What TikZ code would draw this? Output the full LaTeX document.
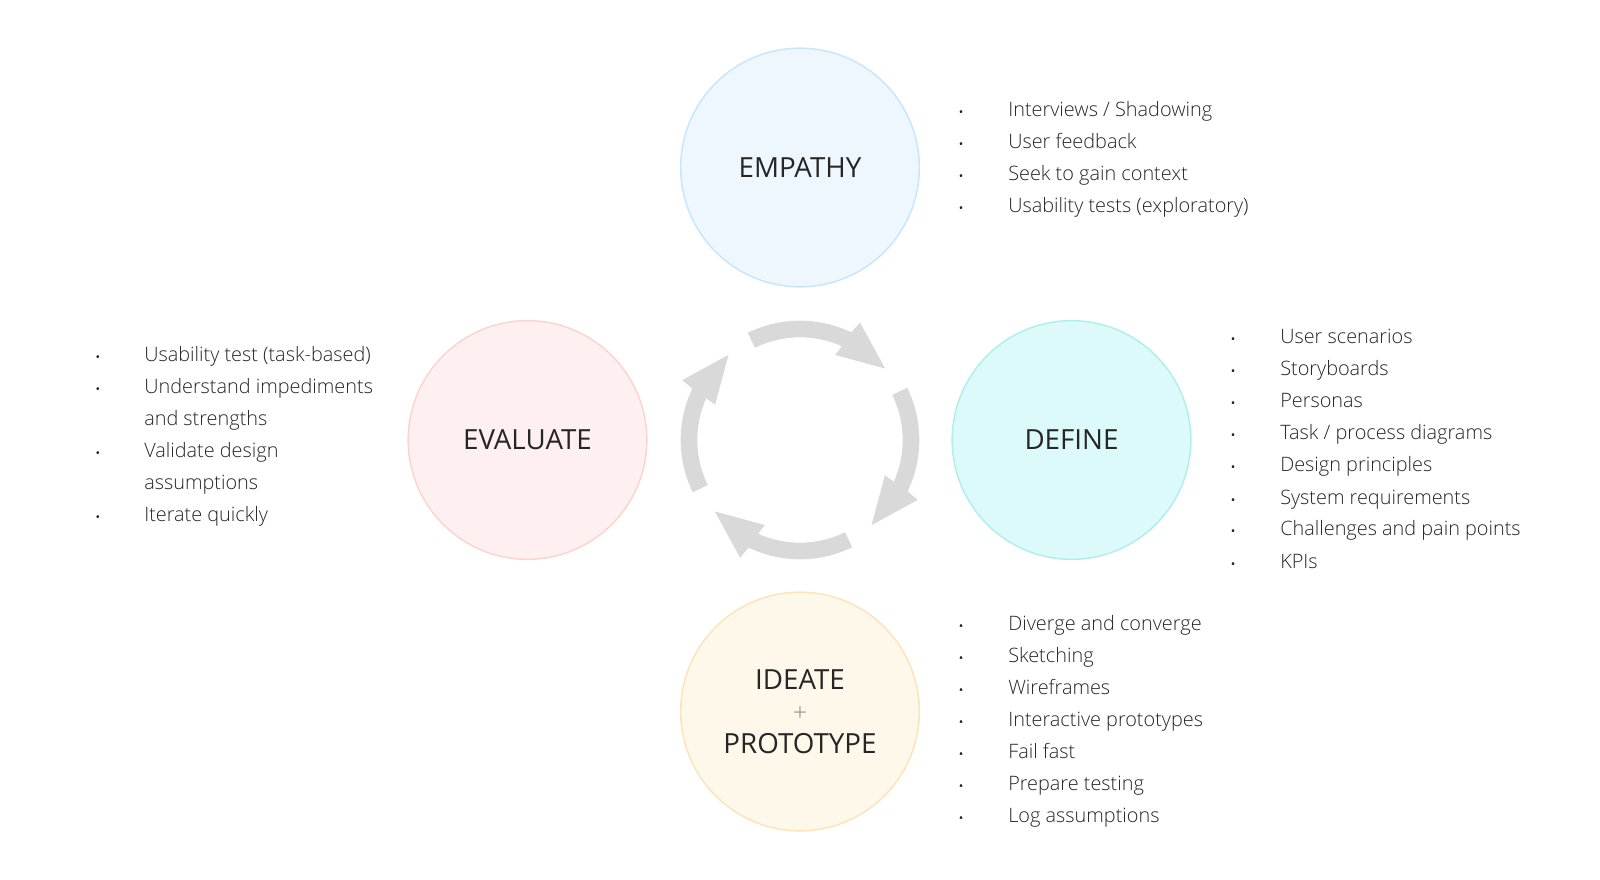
\documentclass[tikz,border=0pt]{standalone}
\usepackage{fontspec}
\setmainfont{Open Sans}
\IfFontExistsTF{Open Sans Light}
  {\newfontfamily\listfont{Open Sans Light}}
  {\newfontfamily\listfont{Open Sans}}
\definecolor{textdark}{HTML}{262626}
\definecolor{plusgray}{HTML}{8A8A8A}
\definecolor{arrowgray}{HTML}{D9D9D9}
\definecolor{empfill}{HTML}{EFF7FE}
\definecolor{empdraw}{HTML}{C8E6FA}
\definecolor{deffill}{HTML}{DCFAFA}
\definecolor{defdraw}{HTML}{B0EEEE}
\definecolor{evafill}{HTML}{FEF0F0}
\definecolor{evadraw}{HTML}{F9D5CF}
\definecolor{idefill}{HTML}{FEF8EA}
\definecolor{idedraw}{HTML}{FBE5B8}

\tikzset{
  phase/.style={circle,line width=1.1pt,minimum size=179pt,inner sep=0pt,
    align=center,text=textdark,font=\fontsize{20.8}{24}\selectfont},
  item/.style={anchor=base west,inner sep=0pt,text=textdark,
    font=\listfont\fontsize{14.9}{16}\selectfont},
  dot/.style={anchor=base,inner sep=0pt,text=textdark,
    font=\fontsize{9}{9}\selectfont},
}

\begin{document}
\begin{tikzpicture}[x=0.75pt,y=-0.75pt]
\useasboundingbox (0,0) rectangle (1600,880);

% the four phases
\node[phase,fill=empfill,draw=empdraw] (empathy)  at (800,167.5) {EMPATHY};
\node[phase,fill=deffill,draw=defdraw] (define)   at (1071.5,440) {DEFINE};
\node[phase,fill=idefill,draw=idedraw] (ideate)   at (800,711.5)
  {IDEATE\\{\color{plusgray}\listfont\fontsize{19}{24}\selectfont +}\\PROTOTYPE};
\node[phase,fill=evafill,draw=evadraw] (evaluate) at (527.5,440) {EVALUATE};

% cycle arrows
\begin{scope}[shift={(800,440)},yscale=-1]
\foreach \a in {0,-90,-180,-270} {
  \fill[arrowgray,rotate=\a] (116:119.3) arc[start angle=116,end angle=64.5,radius=119.3]
    -- (63:132) -- (40:111.2) -- (67.5:92) -- (66:102.7)
    arc[start angle=66,end angle=116,radius=102.7] -- cycle;
}
\end{scope}

% empathy list
\foreach \t [count=\i from 0] in {Interviews / Shadowing,User feedback,
    Seek to gain context,Usability tests (exploratory)} {
  \node[dot]  (empb\i) at (961,116.5+\i*32) {•};
  \node[item] (empt\i) at (1008,116.5+\i*32) {\t};
}

% define list
\foreach \t [count=\i from 0] in {User scenarios,Storyboards,Personas,
    Task / process diagrams,Design principles,System requirements,
    Challenges and pain points,KPIs} {
  \node[dot]  (defb\i) at (1233,344+\i*32) {•};
  \node[item] (deft\i) at (1280,344+\i*32) {\t};
}

% ideate list
\foreach \t [count=\i from 0] in {Diverge and converge,Sketching,Wireframes,
    Interactive prototypes,Fail fast,Prepare testing,Log assumptions} {
  \node[dot]  (ideb\i) at (961,630+\i*32) {•};
  \node[item] (idet\i) at (1008,630+\i*32) {\t};
}

% evaluate list (wrapped lines have no bullet)
\foreach \t/\b [count=\i from 0] in {Usability test (task-based)/1,
    Understand impediments/1,and strengths/0,Validate design/1,
    assumptions/0,Iterate quickly/1} {
  \ifnum\b=1 \node[dot] (evab\i) at (98,361.7+\i*32) {•}; \fi
  \node[item] (evat\i) at (144,361.7+\i*32) {\t};
}
\end{tikzpicture}
\end{document}
